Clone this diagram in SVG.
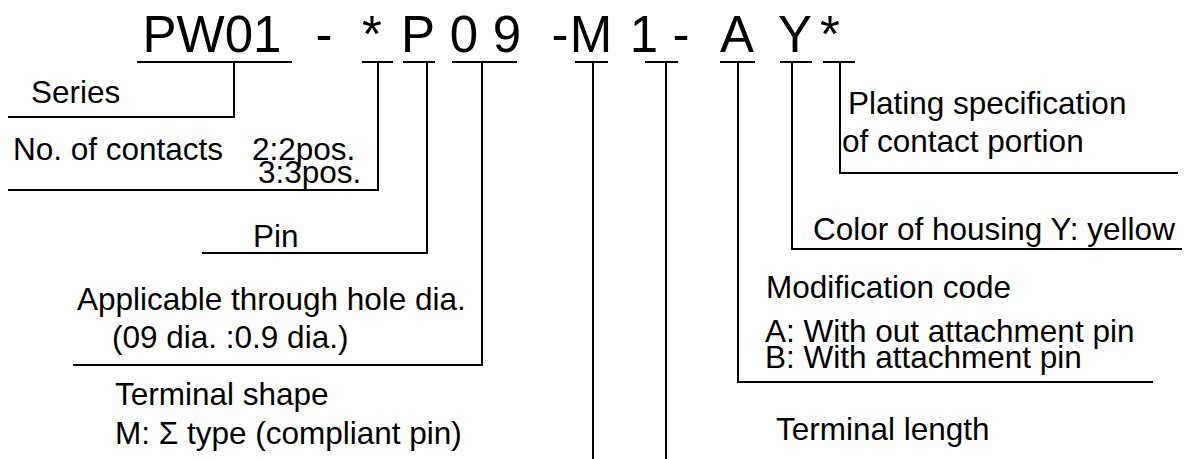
<svg xmlns="http://www.w3.org/2000/svg" width="1194" height="459" viewBox="0 0 1194 459">
<style>
.t{font-family:"Liberation Sans",Arial,sans-serif;fill:#000}
.title{font-size:51px;text-anchor:middle}
.lbl{font-size:31.5px}
.ln{stroke:#000;stroke-width:2;fill:none}
</style>
<rect width="1194" height="459" fill="#fff"/>
<g id="title" class="t title">
<text x="212" y="52">PW01</text>
<text x="324" y="52">-</text>
<text x="372" y="52">*</text>
<text x="418" y="52">P</text>
<text x="464" y="52">0</text>
<text x="507" y="52">9</text>
<text x="560" y="52">-</text>
<text x="591" y="52">M</text>
<text x="644" y="52">1</text>
<text x="681" y="52">-</text>
<text x="737" y="52">A</text>
<text x="795" y="52">Y</text>
<text x="830" y="52">*</text>
</g>
<g id="connectors" class="ln">
<path d="M137 62H292M234 62V117H8"/>
<path d="M362 62H393M378 62V190H8"/>
<path d="M403 62H435M427 62V253H202"/>
<path d="M452 62H517M482 62V365H73"/>
<path d="M575 62H608M593 62V459"/>
<path d="M645 62H678M666 62V459"/>
<path d="M720 62H755M738 62V382H1153"/>
<path d="M780 62H812M792 62V249H1182"/>
<path d="M823 62H855M840 62V173H1178"/>
</g>
<g id="series" class="t lbl"><text x="31" y="103">Series</text></g>
<g id="contacts" class="t lbl"><text x="13" y="160">No. of contacts</text><text x="252" y="160">2:2pos.</text><text x="258" y="183">3:3pos.</text></g>
<g id="pin" class="t lbl"><text x="253" y="247">Pin</text></g>
<g id="hole" class="t lbl"><text x="77" y="310">Applicable through hole dia.</text><text x="112" y="348">(09 dia. :0.9 dia.)</text></g>
<g id="shape" class="t lbl"><text x="115" y="405">Terminal shape</text><text x="115" y="444">M: Σ type (compliant pin)</text></g>
<g id="length" class="t lbl"><text x="776" y="440">Terminal length</text></g>
<g id="modification" class="t lbl"><text x="766" y="298">Modification code</text><text x="765" y="342">A: With out attachment pin</text><text x="765" y="368">B: With attachment pin</text></g>
<g id="color" class="t lbl"><text x="813" y="240">Color of housing Y: yellow</text></g>
<g id="plating" class="t lbl"><text x="848" y="114">Plating specification</text><text x="842" y="152">of contact portion</text></g>
</svg>
